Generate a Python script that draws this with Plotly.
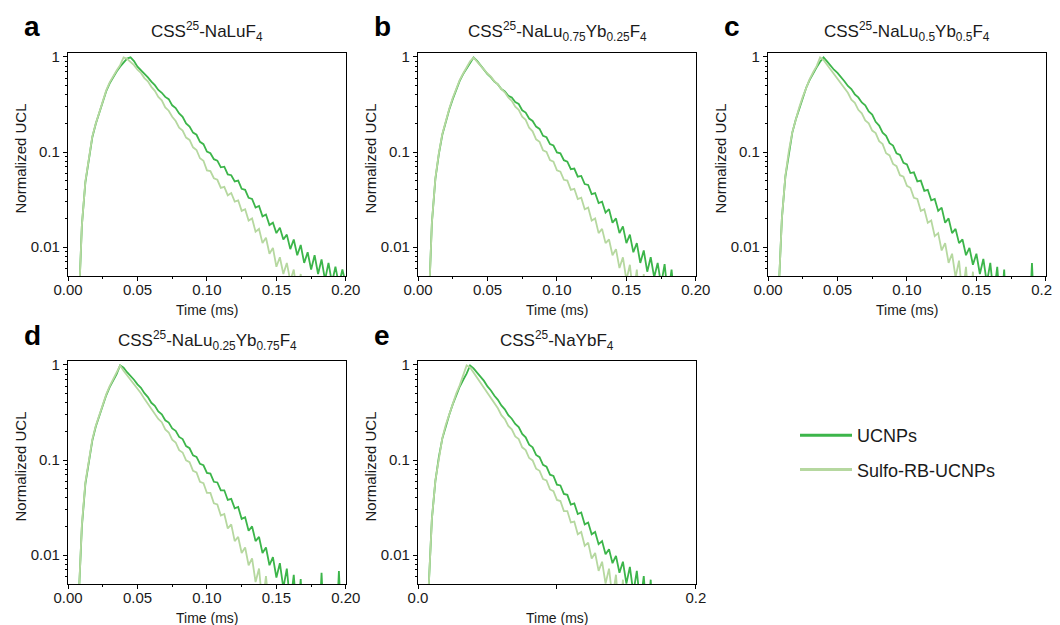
import plotly.graph_objects as go

# ---------------- data ----------------
TIME_MS = [
    0.0000, 0.0025, 0.0050, 0.0075, 0.0100, 0.0125, 0.0150, 0.0175, 0.0200, 0.0225,
    0.0250, 0.0275, 0.0300, 0.0325, 0.0350, 0.0375, 0.0400, 0.0425, 0.0450, 0.0475,
    0.0500, 0.0525, 0.0550, 0.0575, 0.0600, 0.0625, 0.0650, 0.0675, 0.0700, 0.0725,
    0.0750, 0.0775, 0.0800, 0.0825, 0.0850, 0.0875, 0.0900, 0.0925, 0.0950, 0.0975,
    0.1000, 0.1025, 0.1050, 0.1075, 0.1100, 0.1125, 0.1150, 0.1175, 0.1200, 0.1225,
    0.1250, 0.1275, 0.1300, 0.1325, 0.1350, 0.1375, 0.1400, 0.1425, 0.1450, 0.1475,
    0.1500, 0.1525, 0.1550, 0.1575, 0.1600, 0.1625, 0.1650, 0.1675, 0.1700, 0.1725,
    0.1750, 0.1775, 0.1800, 0.1825, 0.1850, 0.1875, 0.1900, 0.1925, 0.1950, 0.1975,
    0.2000,
]

UCNP_A = [
    0.001, 0.001, 0.001, 0.002, 0.017, 0.048, 0.088, 0.143, 0.198, 0.262,
    0.338, 0.436, 0.527, 0.615, 0.704, 0.792, 0.885, 0.962, 0.99, 0.905,
    0.79, 0.73, 0.66, 0.61, 0.55, 0.505, 0.45, 0.42, 0.38, 0.36,
    0.31, 0.29, 0.255, 0.235, 0.20, 0.185, 0.16, 0.152, 0.128, 0.121,
    0.101, 0.097, 0.084, 0.081, 0.069, 0.070, 0.058, 0.057, 0.049, 0.050,
    0.041, 0.040, 0.033, 0.032, 0.026, 0.027, 0.021, 0.022, 0.017, 0.018,
    0.014, 0.016, 0.012, 0.0135, 0.0095, 0.012, 0.0082, 0.0105, 0.0068, 0.0088,
    0.0058, 0.0082, 0.0052, 0.0074, 0.0045, 0.0068, 0.0042, 0.0062, 0.004, 0.0058,
    0.004,
]
SULFO_A = [
    0.001, 0.001, 0.001, 0.002, 0.017, 0.049, 0.090, 0.146, 0.20, 0.266,
    0.345, 0.445, 0.54, 0.63, 0.72, 0.82, 0.99, 0.955, 0.89, 0.82,
    0.735, 0.68, 0.60, 0.555, 0.485, 0.44, 0.38, 0.35, 0.295, 0.272,
    0.235, 0.212, 0.18, 0.168, 0.142, 0.134, 0.112, 0.105, 0.086, 0.081,
    0.064, 0.063, 0.053, 0.051, 0.042, 0.043, 0.035, 0.037, 0.030, 0.031,
    0.024, 0.025, 0.019, 0.020, 0.0145, 0.0155, 0.011, 0.0125, 0.0085, 0.0098,
    0.0062, 0.0078, 0.0052, 0.0068, 0.0044, 0.0058, 0.003, 0.0052, 0.002, 0.001,
    0.001, 0.001, 0.001, 0.001, 0.001, 0.001, 0.001, 0.001, 0.001, 0.001,
    0.001,
]
UCNP_B = [
    0.001, 0.001, 0.001, 0.002, 0.018, 0.052, 0.095, 0.152, 0.21, 0.28,
    0.36, 0.46, 0.56, 0.66, 0.76, 0.87, 0.99, 0.91, 0.82, 0.72,
    0.66, 0.61, 0.55, 0.515, 0.46, 0.435, 0.39, 0.375, 0.335, 0.32,
    0.275, 0.26, 0.225, 0.212, 0.185, 0.175, 0.148, 0.143, 0.121, 0.117,
    0.099, 0.097, 0.082, 0.079, 0.066, 0.067, 0.055, 0.056, 0.046, 0.045,
    0.036, 0.037, 0.029, 0.030, 0.023, 0.025, 0.018, 0.020, 0.014, 0.0165,
    0.011, 0.0135, 0.0088, 0.011, 0.0068, 0.0092, 0.0055, 0.0078, 0.0048, 0.0068,
    0.004, 0.0066, 0.003, 0.0058, 0.002, 0.001, 0.001, 0.001, 0.001, 0.001,
    0.001,
]
SULFO_B = [
    0.001, 0.001, 0.001, 0.002, 0.018, 0.053, 0.097, 0.155, 0.215, 0.285,
    0.37, 0.47, 0.57, 0.67, 0.78, 0.90, 0.985, 0.89, 0.81, 0.745,
    0.67, 0.62, 0.555, 0.515, 0.46, 0.425, 0.375, 0.345, 0.30, 0.278,
    0.235, 0.218, 0.18, 0.165, 0.136, 0.128, 0.104, 0.10, 0.082, 0.079,
    0.064, 0.062, 0.051, 0.050, 0.040, 0.041, 0.032, 0.033, 0.025, 0.026,
    0.019, 0.020, 0.014, 0.0155, 0.011, 0.012, 0.0082, 0.0095, 0.006, 0.0078,
    0.0045, 0.0065, 0.003, 0.0058, 0.002, 0.0052, 0.001, 0.001, 0.001, 0.001,
    0.001, 0.001, 0.001, 0.001, 0.001, 0.001, 0.001, 0.001, 0.001, 0.001,
    0.001,
]
UCNP_C = [
    0.001, 0.001, 0.001, 0.003, 0.02, 0.055, 0.10, 0.16, 0.22, 0.29,
    0.375, 0.475, 0.575, 0.675, 0.78, 0.89, 0.99, 0.90, 0.81, 0.735,
    0.68, 0.605, 0.555, 0.495, 0.46, 0.405, 0.375, 0.332, 0.31, 0.268,
    0.248, 0.208, 0.19, 0.160, 0.148, 0.124, 0.117, 0.097, 0.093, 0.077,
    0.074, 0.060, 0.061, 0.049, 0.050, 0.039, 0.040, 0.031, 0.032, 0.024,
    0.026, 0.018, 0.020, 0.014, 0.0155, 0.011, 0.012, 0.0082, 0.0098, 0.0065,
    0.0085, 0.0052, 0.0075, 0.0042, 0.0068, 0.003, 0.0062, 0.002, 0.0058, 0.001,
    0.001, 0.001, 0.001, 0.001, 0.001, 0.001, 0.0068, 0.001, 0.001, 0.001,
    0.001,
]
SULFO_C = [
    0.001, 0.001, 0.001, 0.003, 0.02, 0.056, 0.102, 0.162, 0.225, 0.295,
    0.38, 0.48, 0.585, 0.69, 0.80, 0.99, 0.93, 0.83, 0.74, 0.67,
    0.595, 0.54, 0.47, 0.42, 0.355, 0.33, 0.278, 0.255, 0.215, 0.20,
    0.168, 0.158, 0.130, 0.121, 0.097, 0.092, 0.075, 0.071, 0.057, 0.055,
    0.044, 0.042, 0.033, 0.032, 0.024, 0.025, 0.018, 0.019, 0.013, 0.014,
    0.0092, 0.011, 0.0068, 0.0085, 0.0048, 0.0072, 0.003, 0.0062, 0.002, 0.0055,
    0.001, 0.001, 0.001, 0.001, 0.001, 0.001, 0.001, 0.001, 0.001, 0.001,
    0.001, 0.001, 0.001, 0.001, 0.001, 0.001, 0.001, 0.001, 0.001, 0.001,
    0.001,
]
UCNP_D = [
    0.001, 0.001, 0.001, 0.003, 0.02, 0.056, 0.10, 0.16, 0.225, 0.295,
    0.38, 0.48, 0.585, 0.69, 0.80, 0.99, 0.935, 0.84, 0.77, 0.70,
    0.625, 0.575, 0.505, 0.46, 0.40, 0.372, 0.325, 0.302, 0.262, 0.248,
    0.215, 0.203, 0.175, 0.166, 0.14, 0.133, 0.112, 0.108, 0.091, 0.088,
    0.073, 0.072, 0.059, 0.058, 0.048, 0.048, 0.038, 0.039, 0.031, 0.032,
    0.024, 0.025, 0.018, 0.020, 0.014, 0.0155, 0.0105, 0.012, 0.0078, 0.0095,
    0.0058, 0.0082, 0.0045, 0.0072, 0.003, 0.0062, 0.002, 0.0056, 0.001, 0.001,
    0.001, 0.001, 0.001, 0.0065, 0.001, 0.001, 0.001, 0.001, 0.0068, 0.001,
    0.001,
]
SULFO_D = [
    0.001, 0.001, 0.001, 0.003, 0.021, 0.058, 0.104, 0.165, 0.23, 0.30,
    0.39, 0.49, 0.60, 0.71, 0.83, 0.985, 0.87, 0.78, 0.70, 0.635,
    0.555, 0.505, 0.44, 0.392, 0.34, 0.312, 0.27, 0.25, 0.21, 0.195,
    0.164, 0.153, 0.127, 0.12, 0.099, 0.095, 0.077, 0.074, 0.059, 0.057,
    0.045, 0.045, 0.035, 0.034, 0.026, 0.027, 0.019, 0.021, 0.014, 0.0155,
    0.0105, 0.012, 0.0078, 0.0092, 0.0052, 0.0072, 0.003, 0.006, 0.002, 0.001,
    0.001, 0.001, 0.001, 0.001, 0.001, 0.001, 0.001, 0.001, 0.001, 0.001,
    0.001, 0.001, 0.001, 0.001, 0.001, 0.001, 0.001, 0.001, 0.001, 0.001,
    0.001,
]
UCNP_E = [
    0.001, 0.001, 0.001, 0.004, 0.024, 0.06, 0.107, 0.168, 0.232, 0.30,
    0.385, 0.485, 0.59, 0.695, 0.81, 0.99, 0.92, 0.83, 0.75, 0.68,
    0.595, 0.54, 0.475, 0.43, 0.375, 0.342, 0.297, 0.272, 0.24, 0.222,
    0.188, 0.173, 0.145, 0.136, 0.113, 0.107, 0.089, 0.085, 0.07, 0.068,
    0.055, 0.054, 0.044, 0.043, 0.034, 0.035, 0.027, 0.028, 0.021, 0.022,
    0.0165, 0.0175, 0.013, 0.014, 0.0102, 0.0115, 0.0082, 0.0098, 0.0065, 0.0085,
    0.005, 0.0075, 0.004, 0.0068, 0.003, 0.006, 0.002, 0.0055, 0.001, 0.001,
    0.001, 0.001, 0.001, 0.001, 0.001, 0.001, 0.001, 0.001, 0.001, 0.001,
    0.001,
]
SULFO_E = [
    0.001, 0.001, 0.001, 0.004, 0.024, 0.061, 0.108, 0.17, 0.235, 0.305,
    0.395, 0.50, 0.61, 0.76, 0.99, 0.94, 0.83, 0.735, 0.65, 0.58,
    0.505, 0.455, 0.392, 0.35, 0.296, 0.27, 0.228, 0.21, 0.177, 0.166,
    0.136, 0.127, 0.105, 0.099, 0.081, 0.077, 0.063, 0.061, 0.049, 0.047,
    0.038, 0.037, 0.029, 0.029, 0.022, 0.0225, 0.0165, 0.0175, 0.0125, 0.0135,
    0.0092, 0.0105, 0.0068, 0.0085, 0.005, 0.0072, 0.0035, 0.0062, 0.002, 0.0055,
    0.001, 0.001, 0.001, 0.001, 0.001, 0.001, 0.001, 0.001, 0.001, 0.001,
    0.001, 0.001, 0.001, 0.001, 0.001, 0.001, 0.001, 0.001, 0.001, 0.001,
    0.001,
]

PANEL_LETTERS = ["a", "b", "c", "d", "e"]
PANEL_TITLES = [
    "CSS<sup>25</sup>-NaLuF<sub>4</sub>",
    "CSS<sup>25</sup>-NaLu<sub>0.75</sub>Yb<sub>0.25</sub>F<sub>4</sub>",
    "CSS<sup>25</sup>-NaLu<sub>0.5</sub>Yb<sub>0.5</sub>F<sub>4</sub>",
    "CSS<sup>25</sup>-NaLu<sub>0.25</sub>Yb<sub>0.75</sub>F<sub>4</sub>",
    "CSS<sup>25</sup>-NaYbF<sub>4</sub>",
]
UCNP_SERIES = [UCNP_A, UCNP_B, UCNP_C, UCNP_D, UCNP_E]
SULFO_SERIES = [SULFO_A, SULFO_B, SULFO_C, SULFO_D, SULFO_E]
SERIES_NAMES = ["UCNPs", "Sulfo-RB-UCNPs"]

X_TICKVALS = [0.0, 0.05, 0.10, 0.15, 0.20]
X_TICKTEXT = ["0.00", "0.05", "0.10", "0.15", "0.20"]
X_MINOR = [0.025, 0.075, 0.125, 0.175]
X_TICKVALS_E = [0.0, 0.1, 0.2]
X_TICKTEXT_E = ["0.0", "", "0.2"]
Y_TICKVALS = [0.01, 0.1, 1]
Y_TICKTEXT = ["0.01", "0.1", "1"]
Y_MINOR = [0.006, 0.007, 0.008, 0.009, 0.02, 0.03, 0.04, 0.05, 0.06, 0.07, 0.08, 0.09,
           0.2, 0.3, 0.4, 0.5, 0.6, 0.7, 0.8, 0.9]

# ---------------- styling / layout ----------------
W, H = 1060, 625
OFF = 8  # the page body margin offsets the figure; targets are window pixels
DARK = "#3cb54a"
LIGHT = "#b6d8a0"
FONT = "Arial, Liberation Sans, sans-serif"
TXT = "#1a1a1a"


def fx(px):
    return (px - OFF) / W


def fy(py):
    return 1 - (py - OFF) / H


# plot boxes in window pixels: left, right, top, bottom
BOXES = [(68, 346, 53, 276), (418, 696, 53, 276), (768, 1046, 53, 276),
         (68, 346, 361, 584), (418, 696, 361, 584)]

fig = go.Figure()
layout = dict(
    width=W, height=H, autosize=False,
    margin=dict(l=0, r=0, t=0, b=0, pad=0, autoexpand=False),
    paper_bgcolor="white", plot_bgcolor="white",
    font=dict(family=FONT, color=TXT, size=15),
    showlegend=True,
    legend=dict(x=fx(795), y=fy(417), xanchor="left", yanchor="top",
                font=dict(size=18, family=FONT, color=TXT),
                bgcolor="rgba(0,0,0,0)", itemwidth=52,
                tracegroupgap=8, traceorder="grouped"),
)
annotations = []

for k, (l, r, t, b) in enumerate(BOXES):
    sfx = "" if k == 0 else str(k + 1)
    xa, ya = "x" + sfx, "y" + sfx
    e_panel = (k == 4)
    layout["xaxis" + sfx] = dict(
        domain=[fx(l), fx(r)], anchor=ya, range=[0, 0.2001],
        tickmode="array",
        tickvals=X_TICKVALS_E if e_panel else X_TICKVALS,
        ticktext=X_TICKTEXT_E if e_panel else X_TICKTEXT,
        ticks="outside", ticklen=4, tickwidth=1, tickcolor="black",
        ticklabelstandoff=-4, ticklabeloverflow="allow",
        minor=dict(ticks="outside", ticklen=2, tickcolor="black",
                   tickmode="array", tickvals=[] if e_panel else X_MINOR),
        showline=True, linecolor="black", linewidth=1.2, mirror=True,
        showgrid=False, zeroline=False, automargin=False,
        tickfont=dict(size=15, family=FONT, color=TXT),
    )
    layout["yaxis" + sfx] = dict(
        domain=[fy(b), fy(t)], anchor=xa, type="log",
        range=[-2.305, 0.042],
        tickmode="array", tickvals=Y_TICKVALS, ticktext=Y_TICKTEXT,
        ticks="outside", ticklen=4, tickwidth=1, tickcolor="black",
        minor=dict(ticks="outside", ticklen=2, tickcolor="black",
                   tickmode="array", tickvals=Y_MINOR),
        showline=True, linecolor="black", linewidth=1.2, mirror=True,
        showgrid=False, zeroline=False, automargin=False,
        tickfont=dict(size=15, family=FONT, color=TXT),
    )

    fig.add_trace(go.Scatter(x=TIME_MS, y=UCNP_SERIES[k], mode="lines",
                             line=dict(color=DARK, width=1.8),
                             name=SERIES_NAMES[0], showlegend=False,
                             xaxis=xa, yaxis=ya))
    fig.add_trace(go.Scatter(x=TIME_MS, y=SULFO_SERIES[k], mode="lines",
                             line=dict(color=LIGHT, width=1.8),
                             name=SERIES_NAMES[1], showlegend=False,
                             xaxis=xa, yaxis=ya))

    cx = (l + r) / 2
    annotations.append(dict(text=PANEL_TITLES[k], x=fx(cx), y=fy(t - 21),
                            xref="paper", yref="paper", xanchor="center",
                            yanchor="middle", showarrow=False,
                            font=dict(size=17, family=FONT, color=TXT)))
    annotations.append(dict(text="<b>" + PANEL_LETTERS[k] + "</b>",
                            x=fx(l - 36), y=fy(t - 26),
                            xref="paper", yref="paper", xanchor="center",
                            yanchor="middle", showarrow=False,
                            font=dict(size=28, family=FONT, color="black")))
    annotations.append(dict(text="Normalized UCL", x=fx(l - 48),
                            y=fy((t + b) / 2 - 6),
                            xref="paper", yref="paper", xanchor="center",
                            yanchor="middle", textangle=-90, showarrow=False,
                            font=dict(size=15, family=FONT, color=TXT)))
    annotations.append(dict(text="Time (ms)", x=fx(cx), y=fy(b + 34),
                            xref="paper", yref="paper", xanchor="center",
                            yanchor="middle", showarrow=False,
                            font=dict(size=14, family=FONT, color=TXT)))

# legend entries (line samples)
fig.add_trace(go.Scatter(x=[None], y=[None], mode="lines", name=SERIES_NAMES[0],
                         line=dict(color=DARK, width=3), legendgroup="g1",
                         xaxis="x", yaxis="y"))
fig.add_trace(go.Scatter(x=[None], y=[None], mode="lines", name=SERIES_NAMES[1],
                         line=dict(color=LIGHT, width=3), legendgroup="g2",
                         xaxis="x", yaxis="y"))

layout["annotations"] = annotations
fig.update_layout(**layout)
fig.write_html("out.html")
